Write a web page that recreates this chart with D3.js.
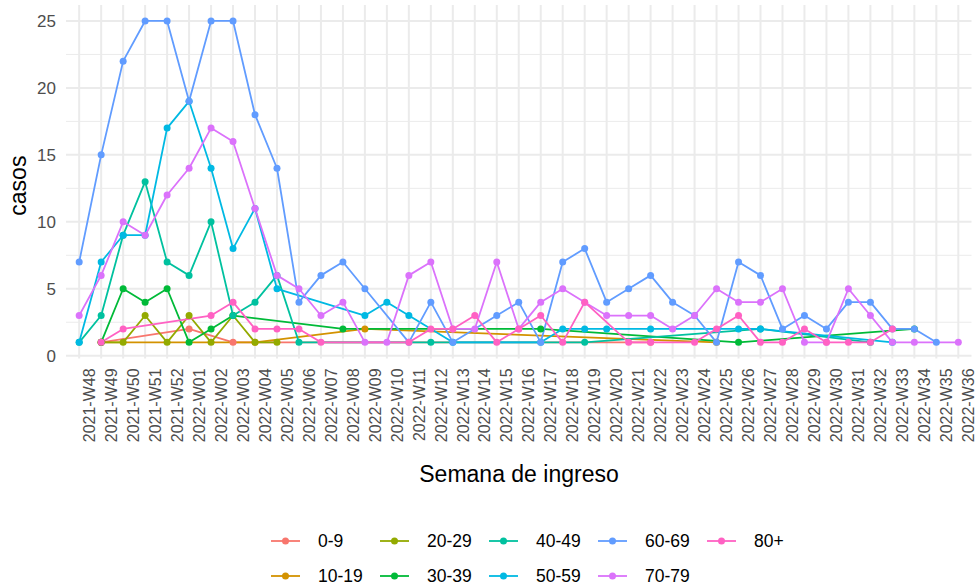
<!DOCTYPE html>
<html>
<head>
<meta charset="utf-8">
<script src="https://cdn.jsdelivr.net/npm/d3@7"></script>
<style>
  body{margin:0;background:#fff;}
  svg{display:block;font-family:"Liberation Sans",Arial,sans-serif;}
</style>
</head>
<body>
<div id="chart"></div>
<script>
const N = null;
const weeks = ["2021-W48","2021-W49","2021-W50","2021-W51","2021-W52",
  "2022-W01","2022-W02","2022-W03","2022-W04","2022-W05","2022-W06","2022-W07","2022-W08","2022-W09","2022-W10",
  "2022-W11","2022-W12","2022-W13","2022-W14","2022-W15","2022-W16","2022-W17","2022-W18","2022-W19","2022-W20",
  "2022-W21","2022-W22","2022-W23","2022-W24","2022-W25","2022-W26","2022-W27","2022-W28","2022-W29","2022-W30",
  "2022-W31","2022-W32","2022-W33","2022-W34","2022-W35","2022-W36"];
const ageGroups = ["0-9","10-19","20-29","30-39","40-49","50-59","60-69","70-79","80+"];
const colours = ["#F8766D","#D39200","#93AA00","#00BA38","#00C19F","#00B9E3","#619CFF","#DB72FB","#FF61C3"];
const yTicks = [0,5,10,15,20,25];

// casos por semana (null = no hay registro esa semana)
const casos0_9   = [N,1,N,N,N,2,N,1,N,N, N,N,N,N,N,N,N,N,N,N, N,N,N,N,N,N,1,N,N,N, N,N,N,N,N,N,N,N,N,N, N];
const casos10_19 = [N,1,N,N,N,N,N,N,1,N, N,N,N,2,N,N,N,N,N,N, N,N,N,N,N,N,N,N,N,1, N,N,N,N,N,N,N,N,N,N, N];
const casos20_29 = [N,1,1,3,1,3,1,3,1,1, N,N,N,N,N,N,N,N,N,N, N,N,N,N,N,N,N,N,N,N, N,N,N,N,N,N,N,N,N,N, N];
const casos30_39 = [N,1,5,4,5,1,2,3,N,N, N,N,2,N,N,N,N,N,N,N, N,2,N,N,N,N,N,N,N,N, 1,N,N,N,N,N,N,N,2,N, N];
const casos40_49 = [1,3,9,13,7,6,10,3,4,6, 1,N,N,N,N,N,1,N,N,N, N,N,N,1,N,N,N,N,N,N, N,2,N,N,N,N,1,N,N,N, N];
const casos50_59 = [1,7,9,9,17,19,14,8,11,5, N,N,N,3,4,3,N,1,N,N, N,1,2,2,2,N,2,N,N,N, 2,2,N,N,N,N,N,1,N,N, N];
const casos60_69 = [7,15,22,25,25,19,25,25,18,14, 4,6,7,5,N,1,4,1,N,3, 4,1,7,8,4,5,6,4,3,1, 7,6,2,3,2,4,4,2,2,1, N];
const casos70_79 = [3,6,10,9,12,14,17,16,11,6, 5,3,4,1,1,6,7,2,2,7, 2,4,5,4,3,3,3,2,3,5, 4,4,5,1,1,5,3,1,1,N, 1];
const casos80    = [N,1,2,N,N,N,3,4,2,2, 2,1,N,N,N,1,2,2,3,1, 2,3,1,4,N,1,1,N,1,2, 3,1,1,2,1,1,1,2,N,N, N];

const seriesValues = [casos0_9,casos10_19,casos20_29,casos30_39,casos40_49,casos50_59,casos60_69,casos70_79,casos80];

const width = 979, height = 588;
const panelLeft = 66, panelRight = 971.5, panelTop = 4.9, panelBottom = 358.4;
const fontFam = "'Liberation Sans',Arial,sans-serif";

const svg = d3.select("#chart").append("svg")
  .attr("width", width).attr("height", height);
svg.append("rect").attr("width", width).attr("height", height).attr("fill", "#fff");

const x = d3.scalePoint().domain(weeks).range([panelLeft, panelRight]).padding(0.6);
const y = d3.scaleLinear().domain([-0.2, 26.2]).range([panelBottom, panelTop]);

// grid
const grid = svg.append("g");
grid.selectAll(".minor").data([2.5,7.5,12.5,17.5,22.5]).enter().append("line")
  .attr("x1", panelLeft).attr("x2", panelRight)
  .attr("y1", d => y(d)).attr("y2", d => y(d))
  .attr("stroke", "#EBEBEB").attr("stroke-width", 1);
grid.selectAll(".majorY").data(yTicks).enter().append("line")
  .attr("x1", panelLeft).attr("x2", panelRight)
  .attr("y1", d => y(d)).attr("y2", d => y(d))
  .attr("stroke", "#EBEBEB").attr("stroke-width", 2);
grid.selectAll(".majorX").data(weeks).enter().append("line")
  .attr("x1", d => x(d)).attr("x2", d => x(d))
  .attr("y1", panelTop).attr("y2", panelBottom)
  .attr("stroke", "#EBEBEB").attr("stroke-width", 2);

// axes
const yAxis = svg.append("g")
  .attr("transform", "translate(" + (panelLeft - 4) + ",0)")
  .call(d3.axisLeft(y).tickValues(yTicks).tickSize(0).tickPadding(6));
yAxis.select(".domain").remove();
yAxis.selectAll("text").attr("fill", "#4D4D4D").style("font-size", "17px")
  .style("font-family", fontFam);

const xAxis = svg.append("g")
  .attr("transform", "translate(0," + (panelBottom + 10) + ")")
  .call(d3.axisBottom(x).tickSize(0).tickPadding(0));
xAxis.select(".domain").remove();
xAxis.selectAll("text")
  .attr("fill", "#4D4D4D").style("font-size", "16px")
  .style("font-family", fontFam)
  .attr("transform", "rotate(-90)")
  .attr("text-anchor", "end")
  .attr("x", 0).attr("y", 0).attr("dy", "0.95em");

svg.append("text")
  .attr("x", 519).attr("y", 482)
  .attr("text-anchor", "middle").style("font-size", "23px").attr("fill", "#000")
  .style("font-family", fontFam)
  .text("Semana de ingreso");
svg.append("text")
  .attr("transform", "translate(26," + ((panelTop + panelBottom) / 2 + 4) + ") rotate(-90)")
  .attr("text-anchor", "middle").style("font-size", "23px").attr("fill", "#000")
  .style("font-family", fontFam)
  .text("casos");

// lines then points
const seriesData = seriesValues.map((vals, k) => ({
  group: ageGroups[k],
  colour: colours[k],
  pts: vals.map((v, i) => ({week: weeks[i], v: v})).filter(d => d.v !== null)
}));

const line = d3.line().x(d => x(d.week)).y(d => y(d.v));

svg.append("g").selectAll("path").data(seriesData).enter().append("path")
  .attr("d", d => line(d.pts))
  .attr("fill", "none").attr("stroke", d => d.colour).attr("stroke-width", 1.8)
  .attr("stroke-linejoin", "round");

const pointLayer = svg.append("g");
seriesData.forEach(s => {
  pointLayer.selectAll(null).data(s.pts).enter().append("circle")
    .attr("cx", d => x(d.week)).attr("cy", d => y(d.v)).attr("r", 3.5)
    .attr("fill", s.colour);
});

// legend (2 rows, filled by column)
const legend = svg.append("g");
const legendItems = legend.selectAll("g").data(ageGroups).enter().append("g")
  .attr("transform", (d, i) => "translate(" + (318 + 109 * Math.floor(i / 2)) + "," + (i % 2 === 0 ? 541 : 576) + ")");
legendItems.append("line")
  .attr("x1", -47).attr("x2", -18).attr("y1", 0).attr("y2", 0)
  .attr("stroke", (d, i) => colours[i]).attr("stroke-width", 1.8);
legendItems.append("circle")
  .attr("cx", -32.5).attr("cy", 0).attr("r", 3.5).attr("fill", (d, i) => colours[i]);
legendItems.append("text")
  .attr("x", 0).attr("dy", "0.35em").style("font-size", "17.5px").attr("fill", "#000")
  .style("font-family", fontFam)
  .text(d => d);
</script>
</body>
</html>
